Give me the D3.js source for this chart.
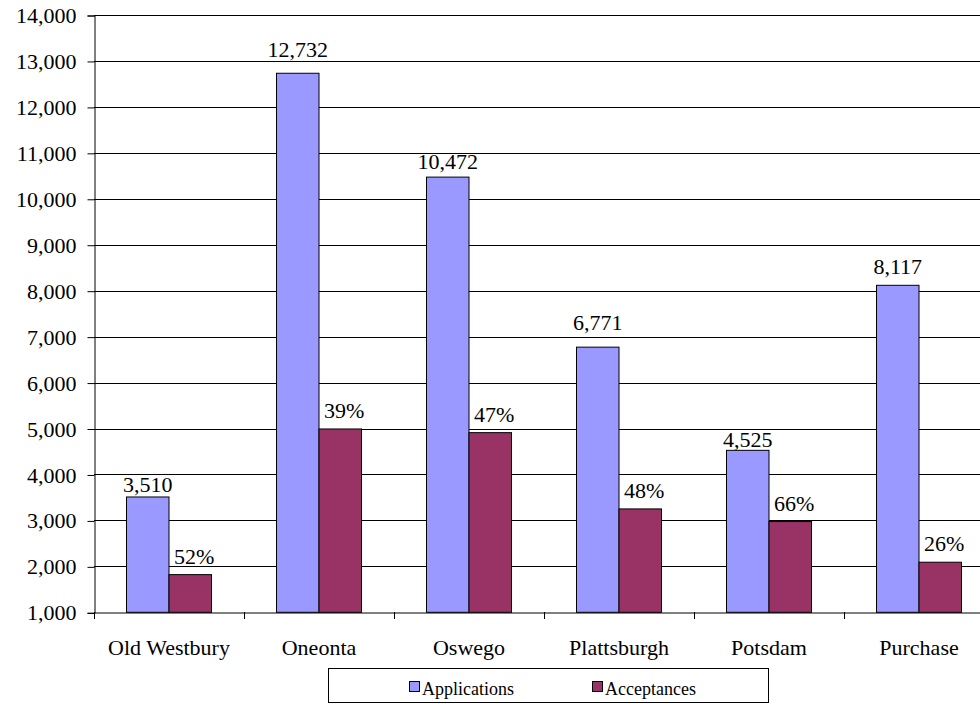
<!DOCTYPE html>
<html>
<head>
<meta charset="utf-8">
<script src="https://cdn.jsdelivr.net/npm/d3@7"></script>
</head>
<body style="margin:0">
<svg id="viz" width="980" height="704"></svg>
<script>
const categories = ["Old Westbury", "Oneonta", "Oswego", "Plattsburgh", "Potsdam", "Purchase"];
const seriesNames = ["Applications", "Acceptances"];
const applications = [3510, 12732, 10472, 6771, 4525, 8117];
const acceptances = [1820, 4990, 4910, 3250, 2975, 2090];
const acceptanceLabels = ["52%", "39%", "47%", "48%", "66%", "26%"];
const yTicks = [1000, 2000, 3000, 4000, 5000, 6000, 7000, 8000, 9000, 10000, 11000, 12000, 13000, 14000];
const colors = ["#9999FF", "#993366"];
// label gap above bar (style)
const appLabelGap = [5, 16, 8, 17, 3, 11];

(function () {
const FONT = '"Liberation Serif"';
const svg = d3.select("#viz");
const mLeft = 94, mRight = 994, mTop = 15, mBottom = 612.3;

const x = d3.scaleBand().domain(categories).range([mLeft, mRight]).paddingInner(0).paddingOuter(0);
const xs = d3.scaleBand().domain(seriesNames).range([32.5, 117.5]).padding(0);
const y = d3.scaleLinear().domain([1000, 14000]).range([mBottom, mTop]);
const fmt = d3.format(",");

// gridlines
svg.append("g").selectAll("line").data(yTicks.filter(t => t > 1000)).join("line")
  .attr("x1", mLeft).attr("x2", 980)
  .attr("y1", d => Math.round(y(d)) + 0.5).attr("y2", d => Math.round(y(d)) + 0.5)
  .attr("stroke", "#000").attr("stroke-width", 1);

// y axis
const yAxis = d3.axisLeft(y).tickValues(yTicks).tickFormat(fmt).tickSize(7).tickPadding(11);
const gy = svg.append("g").attr("transform", `translate(${mLeft + 0.5},0.5)`).call(yAxis);
gy.attr("font-family", "Liberation Serif").attr("font-size", 22);
gy.select(".domain").attr("stroke", "#000");
gy.selectAll(".tick line").attr("stroke", "#000");
gy.selectAll(".tick text").attr("font-size", 22).attr("font-family", "Liberation Serif").style("font-family", FONT).attr("fill", "#000");

// bars
const groups = svg.append("g").selectAll("g").data(categories).join("g")
  .attr("transform", d => `translate(${x(d)},0)`);

groups.append("rect")
  .attr("x", xs("Applications")).attr("width", xs.bandwidth())
  .attr("y", (d, i) => y(applications[i])).attr("height", (d, i) => y(1000) - y(applications[i]))
  .attr("fill", colors[0]).attr("stroke", "#000").attr("stroke-width", 1);

groups.append("rect")
  .attr("x", xs("Acceptances")).attr("width", xs.bandwidth())
  .attr("y", (d, i) => y(acceptances[i])).attr("height", (d, i) => y(1000) - y(acceptances[i]))
  .attr("fill", colors[1]).attr("stroke", "#000").attr("stroke-width", 1);

// labels
groups.append("text")
  .attr("x", xs("Applications") + xs.bandwidth() / 2)
  .attr("y", (d, i) => y(applications[i]) - appLabelGap[i])
  .attr("text-anchor", "middle").attr("font-size", 22)
  .attr("font-family", "Liberation Serif").style("font-family", FONT)
  .text((d, i) => fmt(applications[i]));

groups.append("text")
  .attr("x", xs("Acceptances") + xs.bandwidth() / 2 + 4)
  .attr("y", (d, i) => y(acceptances[i]) - 11)
  .attr("text-anchor", "middle").attr("font-size", 22)
  .attr("font-family", "Liberation Serif").style("font-family", FONT)
  .text((d, i) => acceptanceLabels[i]);

// x axis
const xAxis = d3.axisBottom(x).tickSize(0).tickFormat(d => d);
const gx = svg.append("g").attr("transform", `translate(0,${Math.round(mBottom) + 0.5})`).call(xAxis);
gx.attr("font-family", "Liberation Serif").attr("font-size", 22);
gx.select(".domain").attr("stroke", "#000");
gx.selectAll(".tick text").attr("font-size", 22).attr("font-family", "Liberation Serif").style("font-family", FONT)
  .attr("fill", "#000").attr("dy", 0).attr("y", 42);
// category boundary ticks
svg.append("g").selectAll("line").data(categories.concat(["__end"])).join("line")
  .attr("x1", (d, i) => Math.round(mLeft + i * x.bandwidth()) + 0.5)
  .attr("x2", (d, i) => Math.round(mLeft + i * x.bandwidth()) + 0.5)
  .attr("y1", Math.round(mBottom)).attr("y2", Math.round(mBottom) + 7)
  .attr("stroke", "#000");

// legend
const lg = svg.append("g");
lg.append("rect").attr("x", 328.5).attr("y", 668.5).attr("width", 440).attr("height", 34)
  .attr("fill", "#fff").attr("stroke", "#000");
const legendX = [409, 592];
seriesNames.forEach((s, i) => {
  lg.append("rect").attr("x", legendX[i] + 0.5).attr("y", 681.5).attr("width", 10).attr("height", 10)
    .attr("fill", colors[i]).attr("stroke", "#000");
  lg.append("text").attr("x", legendX[i] + 13).attr("y", 695).attr("font-size", 18)
    .attr("font-family", "Liberation Serif").style("font-family", FONT).text(s);
});
})();
</script>
</body>
</html>
